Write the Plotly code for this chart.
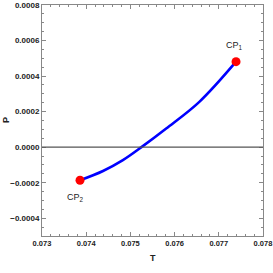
import plotly.graph_objects as go

T_curve = [0.07386, 0.07438, 0.07483, 0.07525, 0.07581, 0.07656, 0.07739]
P_curve = [-0.000186, -0.000134, -0.000073, 0.0, 0.000105, 0.000255, 0.000481]
cp_T = [0.07739, 0.07386]
cp_P = [0.000481, -0.000186]
cp_labels = ["CP<sub>1</sub>", "CP<sub>2</sub>"]
x_title = "T"
y_title = "P"
x_ticks = [0.073, 0.074, 0.075, 0.076, 0.077, 0.078]

font_fam = "Liberation Sans Narrow, Liberation Sans, Arial"

fig = go.Figure()
fig.add_hline(y=0, line=dict(color="#555555", width=1.2))
fig.add_trace(go.Scatter(x=T_curve, y=P_curve, mode="lines",
                         line=dict(color="#0000ff", width=2.6, shape="spline"),
                         showlegend=False))
fig.add_trace(go.Scatter(x=cp_T, y=cp_P, mode="markers",
                         marker=dict(color="#ff0000", size=9),
                         showlegend=False))
fig.add_annotation(x=cp_T[0], y=cp_P[0], text=cp_labels[0], showarrow=False,
                   xshift=-2, yshift=16, font=dict(size=9, family=font_fam, color="#222"))
fig.add_annotation(x=cp_T[1], y=cp_P[1], text=cp_labels[1], showarrow=False,
                   xshift=-5, yshift=-17, font=dict(size=9, family=font_fam, color="#222"))
fig.add_annotation(xref="paper", yref="paper", x=0.5, y=-0.096, yanchor="middle",
                   text=x_title, showarrow=False,
                   font=dict(size=9, family=font_fam, color="#222", weight="bold"))
fig.add_annotation(xref="paper", yref="paper", x=-0.165, y=0.5, xanchor="center",
                   yanchor="middle", text=y_title, showarrow=False, textangle=-90,
                   font=dict(size=9, family=font_fam, color="#222", weight="bold"))

axis_common = dict(showgrid=False, zeroline=False, showline=True, linecolor="#888888",
                   linewidth=1, mirror="ticks", ticks="inside", ticklen=4,
                   tickcolor="#888888", automargin=False, ticklabeloverflow="allow")
fig.update_xaxes(range=[0.073, 0.078], tickmode="array", tickvals=x_ticks,
                 ticktext=[f"{v:.3f}" for v in x_ticks],
                 tickfont=dict(size=7.5, family=font_fam, color="#222", weight="bold"),
                 minor=dict(dtick=0.0002, tick0=0.073, ticks="inside", ticklen=2, tickcolor="#888888"),
                 **axis_common)
fig.update_yaxes(range=[-0.0005, 0.0008], dtick=0.0002, tick0=0, tickformat=".4f",
                 tickfont=dict(size=8, family=font_fam, color="#222", weight="bold"),
                 minor=dict(dtick=0.00005, ticks="inside", ticklen=2, tickcolor="#888888"),
                 **axis_common)
fig.update_layout(width=273, height=273, margin=dict(l=42, r=10, t=5, b=37),
                  plot_bgcolor="white", paper_bgcolor="white")
fig.write_html("out.html", config={"displayModeBar": False},
               post_script="document.body.style.margin='0';document.body.style.padding='0';")
